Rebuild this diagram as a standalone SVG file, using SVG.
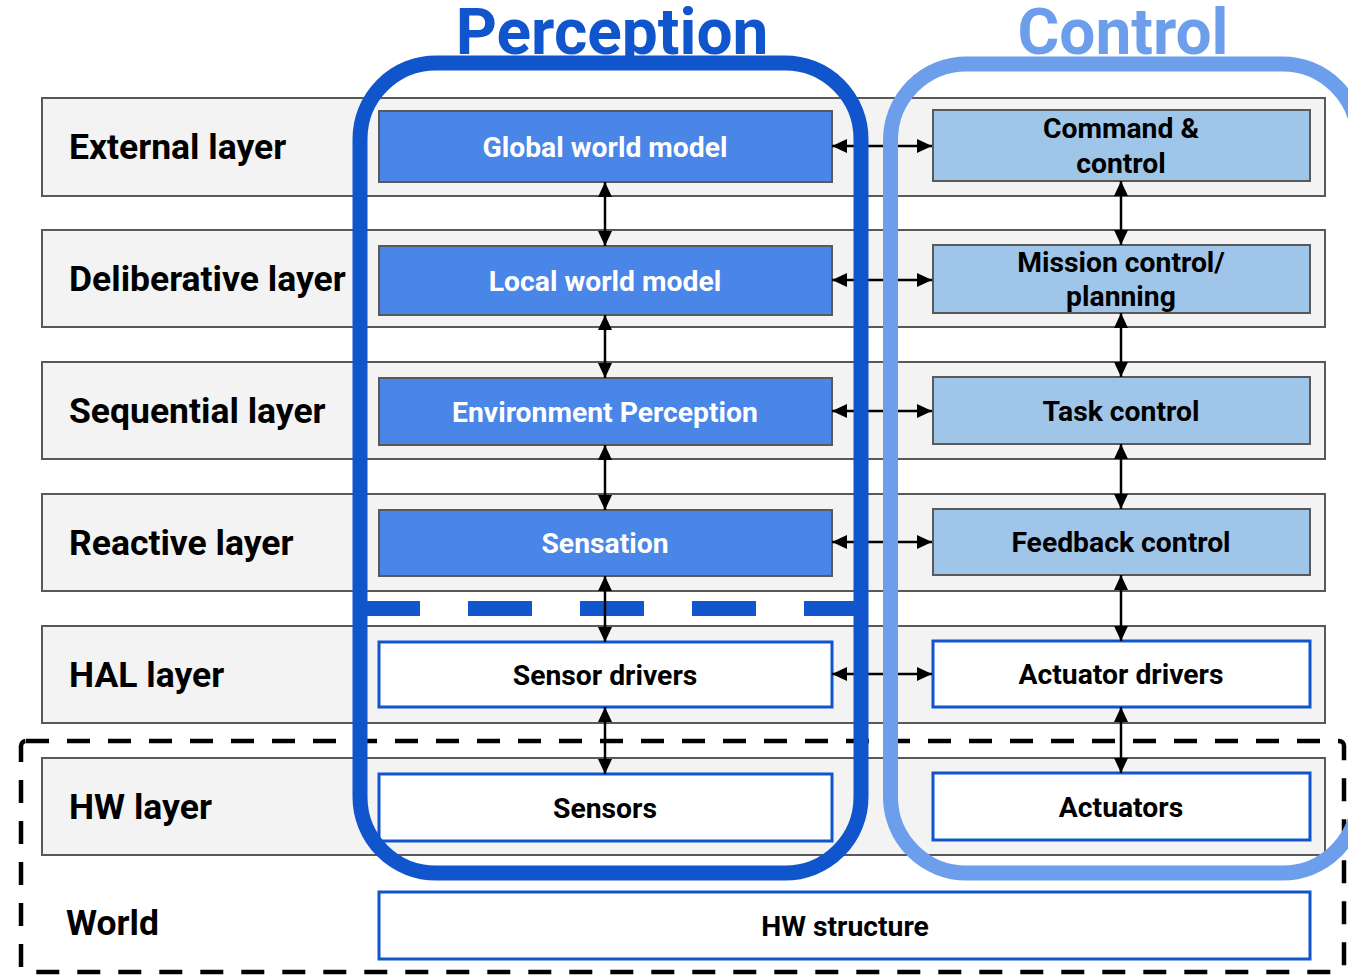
<svg xmlns="http://www.w3.org/2000/svg" width="1348" height="977" viewBox="0 0 1348 977">
  <defs>
    <marker id="ah" viewBox="0 0 15 14" markerWidth="15" markerHeight="14" refX="15" refY="7" markerUnits="userSpaceOnUse" orient="auto-start-reverse">
      <path d="M0,0 L15,7 L0,14 Z" fill="#000"/>
    </marker>
    <style>
      .band { fill: #f3f3f3; stroke: #595959; stroke-width: 2; }
      .lbl { font-family: Roboto, "Liberation Sans", sans-serif; font-weight: bold; font-size: 35.5px; fill: #000; }
      .pnode { fill: #4a86e8; stroke: #595959; stroke-width: 2; }
      .cnode { fill: #9fc5e8; stroke: #595959; stroke-width: 2; }
      .hnode { fill: #fff; stroke: #1155cc; stroke-width: 3; }
      .t { font-family: Roboto, "Liberation Sans", sans-serif; font-weight: bold; font-size: 28.3px; text-anchor: middle; fill: #000; }
      .tw { fill: #fff; }
      .arr { stroke: #000; stroke-width: 2.5; fill: none; marker-start: url(#ah); marker-end: url(#ah); }
      .title { font-family: Roboto, "Liberation Sans", sans-serif; font-weight: bold; font-size: 64px; text-anchor: middle; }
    </style>
  </defs>

  <!-- layer bands -->
  <g id="layers">
    <g id="layer-external"><rect class="band" x="42" y="98" width="1283" height="98"/><text class="lbl" x="69" y="159">External layer</text></g>
    <g id="layer-deliberative"><rect class="band" x="42" y="230" width="1283" height="97"/><text class="lbl" x="69" y="291">Deliberative layer</text></g>
    <g id="layer-sequential"><rect class="band" x="42" y="362" width="1283" height="97"/><text class="lbl" x="69" y="423">Sequential layer</text></g>
    <g id="layer-reactive"><rect class="band" x="42" y="494" width="1283" height="97"/><text class="lbl" x="69" y="555">Reactive layer</text></g>
    <g id="layer-hal"><rect class="band" x="42" y="626" width="1283" height="97"/><text class="lbl" x="69" y="687">HAL layer</text></g>
    <g id="layer-hw"><rect class="band" x="42" y="758" width="1283" height="97"/><text class="lbl" x="69" y="819">HW layer</text></g>
    <g id="layer-world"><text class="lbl" x="66" y="935">World</text></g>
  </g>

  <!-- perception column -->
  <g id="global-world-model"><rect class="pnode" x="379" y="111" width="453" height="71"/><text class="t tw" x="605" y="157">Global world model</text></g>
  <g id="local-world-model"><rect class="pnode" x="379" y="246" width="453" height="69"/><text class="t tw" x="605" y="291">Local world model</text></g>
  <g id="environment-perception"><rect class="pnode" x="379" y="378" width="453" height="67"/><text class="t tw" x="605" y="422">Environment Perception</text></g>
  <g id="sensation"><rect class="pnode" x="379" y="510" width="453" height="66"/><text class="t tw" x="605" y="553">Sensation</text></g>
  <g id="sensor-drivers"><rect class="hnode" x="379" y="642" width="453" height="65"/><text class="t" x="605" y="685">Sensor drivers</text></g>
  <g id="sensors"><rect class="hnode" x="379" y="774" width="453" height="67"/><text class="t" x="605" y="818">Sensors</text></g>

  <!-- control column -->
  <g id="command-control"><rect class="cnode" x="933" y="110" width="377" height="71"/><text class="t" x="1121" y="138">Command &amp;</text><text class="t" x="1121" y="173">control</text></g>
  <g id="mission-control"><rect class="cnode" x="933" y="245" width="377" height="68"/><text class="t" x="1121" y="272">Mission control/</text><text class="t" x="1121" y="306">planning</text></g>
  <g id="task-control"><rect class="cnode" x="933" y="377" width="377" height="67"/><text class="t" x="1121" y="421">Task control</text></g>
  <g id="feedback-control"><rect class="cnode" x="933" y="509" width="377" height="66"/><text class="t" x="1121" y="552">Feedback control</text></g>
  <g id="actuator-drivers"><rect class="hnode" x="933" y="641" width="377" height="66"/><text class="t" x="1121" y="684">Actuator drivers</text></g>
  <g id="actuators"><rect class="hnode" x="933" y="773" width="377" height="67"/><text class="t" x="1121" y="817">Actuators</text></g>

  <!-- world -->
  <g id="hw-structure"><rect class="hnode" x="379" y="892" width="931" height="67"/><text class="t" x="845" y="936">HW structure</text></g>

  <!-- sensing boundary (dashed blue) -->
  <line x1="356" y1="608.5" x2="868" y2="608.5" stroke="#1155cc" stroke-width="15" stroke-dasharray="64 48"/>

  <!-- connectors -->
  <g id="connectors">
    <line class="arr" x1="832" y1="146" x2="932" y2="146"/>
    <line class="arr" x1="832" y1="280" x2="932" y2="280"/>
    <line class="arr" x1="832" y1="411" x2="932" y2="411"/>
    <line class="arr" x1="832" y1="542" x2="932" y2="542"/>
    <line class="arr" x1="832" y1="674" x2="932" y2="674"/>

    <line class="arr" x1="605" y1="182" x2="605" y2="246"/>
    <line class="arr" x1="605" y1="315" x2="605" y2="378"/>
    <line class="arr" x1="605" y1="445" x2="605" y2="510"/>
    <line class="arr" x1="605" y1="576" x2="605" y2="642"/>
    <line class="arr" x1="605" y1="707" x2="605" y2="774"/>

    <line class="arr" x1="1121" y1="181" x2="1121" y2="245"/>
    <line class="arr" x1="1121" y1="313" x2="1121" y2="377"/>
    <line class="arr" x1="1121" y1="444" x2="1121" y2="509"/>
    <line class="arr" x1="1121" y1="575" x2="1121" y2="641"/>
    <line class="arr" x1="1121" y1="707" x2="1121" y2="773"/>
  </g>

  <!-- hardware/world boundary -->
  <rect x="21" y="741" width="1323" height="231" rx="5" fill="none" stroke="#000" stroke-width="4.5" stroke-dasharray="23 18"/>

  <!-- grouping frames -->
  <g id="perception">
    <rect x="360" y="63" width="501" height="810" rx="76" fill="none" stroke="#1155cc" stroke-width="15"/>
    <text class="title" x="612" y="54" fill="#1155cc">Perception</text>
  </g>
  <g id="control">
    <rect x="890.5" y="64" width="468" height="809" rx="76" fill="none" stroke="#6d9eeb" stroke-width="15"/>
    <text class="title" x="1123" y="54" fill="#6d9eeb">Control</text>
  </g>
</svg>
